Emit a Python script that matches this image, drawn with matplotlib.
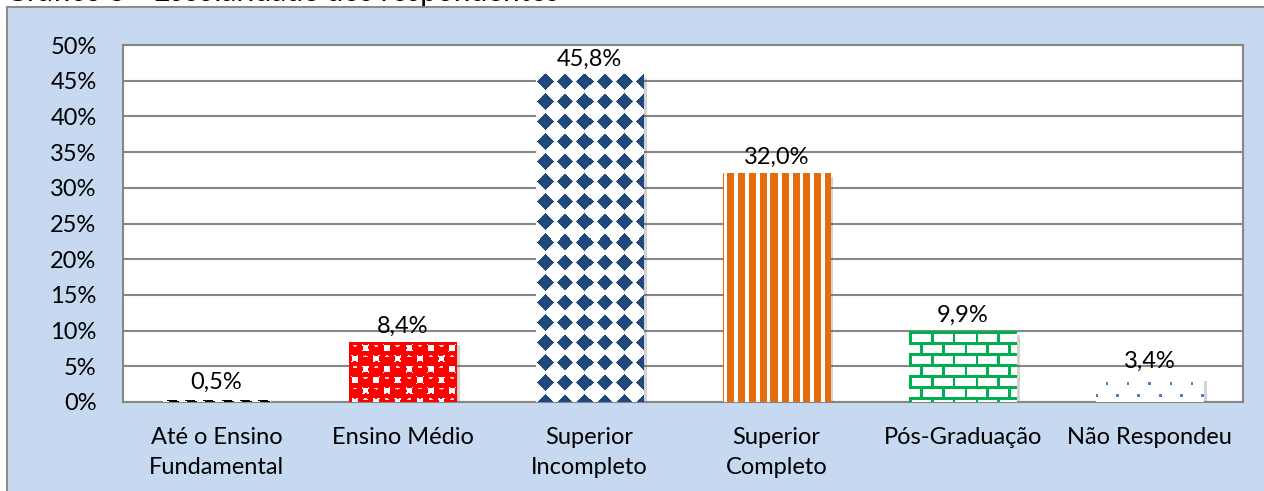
import numpy as np
import matplotlib.pyplot as plt
from matplotlib.colors import to_rgb
from matplotlib.patches import Rectangle
import matplotlib.patheffects as pe

# Dados do gráfico (escolaridade dos respondentes)
categorias = ["Até o Ensino\nFundamental", "Ensino Médio", "Superior\nIncompleto",
              "Superior\nCompleto", "Pós-Graduação", "Não Respondeu"]
percentuais = [0.5, 8.4, 45.8, 32.0, 9.9, 3.4]
rotulos = ["0,5%", "8,4%", "45,8%", "32,0%", "9,9%", "3,4%"]
y_ticks = [0, 5, 10, 15, 20, 25, 30, 35, 40, 45, 50]
y_labels = ["0%", "5%", "10%", "15%", "20%", "25%", "30%", "35%", "40%", "45%", "50%"]
titulo = "Gráfico 5 - Escolaridade dos respondentes"

plt.rcParams['font.family'] = ['Lato', 'DejaVu Sans']
fs = 17


# ---- padrões de preenchimento (estilo Excel) ----
def grade(w, h):
    yy, xx = np.mgrid[0:h, 0:w].astype(float)
    return xx, yy


def pintar(mask, cor, fundo="white"):
    img = np.empty(mask.shape + (3,))
    img[:] = to_rgb(fundo)
    img[mask] = to_rgb(cor)
    return img


def tracos(w, h):
    xx, yy = grade(w, h)
    mask = ((xx - 2 * yy) % 18 < 10) & (yy >= h * 0.35)
    return pintar(mask, "black")


def esferas(w, h):
    xx, yy = grade(w, h)
    p = 10.7
    d = np.full(xx.shape, 99.0)
    i0 = np.floor(xx / p)
    j0 = np.floor(yy / p)
    for di in (-1, 0, 1):
        for dj in (-1, 0, 1):
            i = i0 + di
            j = j0 + dj
            par = ((i + j) % 2) == 0
            dist = np.hypot(xx - (i + 0.5) * p, yy - (j + 0.5) * p)
            d = np.where(par & (dist < d), dist, d)
    img = pintar(d < 0.74 * p, "#FF0000")
    # brilho das esferas
    i = np.floor(xx / p)
    j = np.floor(yy / p)
    lx = (xx % p) - 0.5 * p
    ly = (yy % p) - 0.3 * p
    brilho = (((i + j) % 2) == 0) & ((lx / 2.2) ** 2 + (ly / 1.0) ** 2 < 1)
    img[brilho] = to_rgb("#FFD0D0")
    return img


def losangos(w, h):
    xx, yy = grade(w, h)
    px, py = 19.5, 20.0
    dx = np.abs(((xx - 9 + px / 2) % px) - px / 2)
    dy = np.abs(((yy - 7 + py / 2) % py) - py / 2)
    return pintar(dx + dy < 8.5, "#1F497D")


def listras(w, h):
    xx, yy = grade(w, h)
    return pintar(((xx - 4) % 10.7) < 7, "#E46C0A")


def tijolos(w, h):
    xx, yy = grade(w, h)
    fila = np.floor(yy / 11)
    horiz = (yy % 11) < 2.5
    vert = ((xx + (fila % 2) * 10.85) % 21.7) < 2.5
    return pintar(horiz | vert, "#00B050")


def pontos(w, h):
    xx, yy = grade(w, h)
    fila = np.floor(yy / 11)
    cx = (xx + (fila % 2) * 10.5) % 21
    mask = (np.abs(cx - 10.5) < 1.5) & (np.abs((yy % 11) - 6) < 1.5)
    return pintar(mask, "#4F81BD")


padroes = [tracos, esferas, losangos, listras, tijolos, pontos]

# ---- figura ----
fig = plt.figure(figsize=(12.64, 4.91), dpi=100, facecolor="white")
fundo = Rectangle((7 / 1264, -0.05), 1.0, 1 - 7 / 491 + 0.05, transform=fig.transFigure,
                  facecolor="#C6D9F1", edgecolor="#8C8C8C", lw=1.5, zorder=-1)
fig.add_artist(fundo)
# título cortado no topo, como na imagem original (fica por trás do fundo azul)
fig.text(5 / 1264, 1 - 1.0 / 491, titulo, fontsize=21.5, va="baseline", ha="left",
         zorder=-2)

ax = fig.add_axes([123 / 1264, 1 - 402 / 491, 1120 / 1264, 357 / 491])
ax.set_facecolor("white")

x = np.arange(len(categorias))
barras = ax.bar(x, percentuais, width=0.575, color="white", zorder=2,
                path_effects=[pe.SimplePatchShadow(offset=(2.5, -2.5), alpha=0.25), pe.Normal()])
ax.set_xlim(-0.5, len(categorias) - 0.5)
ax.set_ylim(0, 50)
fig.canvas.draw()

for barra, padrao in zip(barras, padroes):
    bb = barra.get_window_extent()
    w = max(int(round(bb.width)), 1)
    h = max(int(round(bb.height)), 1)
    ax.imshow(padrao(w, h), extent=(barra.get_x(), barra.get_x() + barra.get_width(),
                                    0, barra.get_height()),
              aspect="auto", interpolation="nearest", zorder=3)

ax.set_xlim(-0.5, len(categorias) - 0.5)
ax.set_ylim(0, 50)

for barra, rot in zip(barras, rotulos):
    ax.annotate(rot, (barra.get_x() + barra.get_width() / 2, barra.get_height()),
                xytext=(0, 4), textcoords="offset points", ha="center", va="bottom",
                fontsize=fs, zorder=4)

ax.set_yticks(y_ticks)
ax.set_yticklabels(y_labels, fontsize=fs)
ax.set_xticks(x)
ax.set_xticklabels(categorias, fontsize=fs, linespacing=1.5)
ax.tick_params(axis="y", length=0, pad=19)
ax.tick_params(axis="x", length=0, pad=18)
ax.grid(axis="y", color="#868686", lw=1.5, zorder=1)
ax.set_axisbelow(True)
for lado in ax.spines.values():
    lado.set_color("#868686")
    lado.set_linewidth(1.5)

fig.savefig("out.png", dpi=100, facecolor="white")
